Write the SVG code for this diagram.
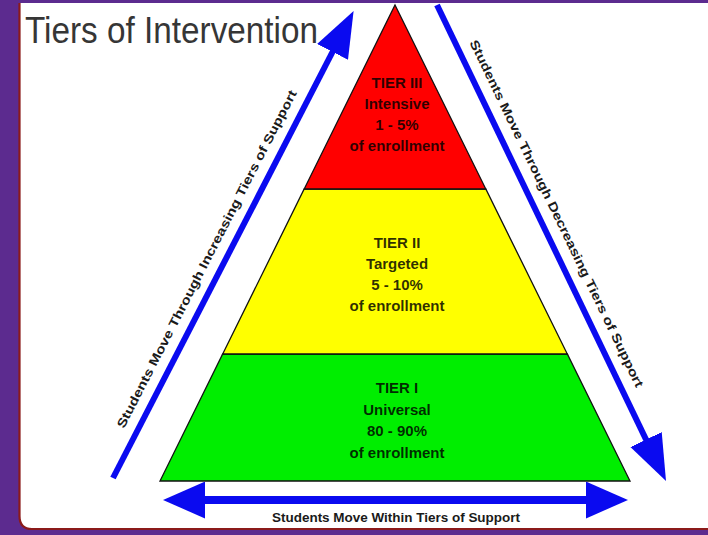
<svg xmlns="http://www.w3.org/2000/svg" width="708" height="535" viewBox="0 0 708 535">
  <style>
    .tier { stroke: #111; stroke-width: 1.3; stroke-linejoin: miter; }
    .tl { font-family: "Liberation Sans", Arial, sans-serif; font-weight: bold; font-size: 15px; text-anchor: middle; fill: #000; fill-opacity: 0.82; }
    .arr { stroke: #0a0af0; fill: none; }
    .lab { font-family: "Liberation Sans", Arial, sans-serif; font-weight: bold; font-size: 12.5px; text-anchor: middle; fill: #1a1a1a; }
  </style>
  <defs>
    <marker id="head" markerUnits="userSpaceOnUse" markerWidth="46" markerHeight="36" viewBox="0 0 45 34" refX="1" refY="17" orient="auto">
      <path d="M0,0 L45,17 L0,34 Z" fill="#0a0af0"/>
    </marker>
    <marker id="headS" markerUnits="userSpaceOnUse" markerWidth="42" markerHeight="37" viewBox="0 0 41 36" refX="1" refY="18" orient="auto-start-reverse">
      <path d="M0,0 L41,18 L0,36 Z" fill="#0a0af0"/>
    </marker>
  </defs>

  <!-- background -->
  <rect x="0" y="0" width="708" height="535" fill="#5c2b8f"/>
  <path d="M19.5,3 H708 V529 H32 Q19.5,529 19.5,516 Z" fill="#ffffff"/>
  <path d="M19.5,3 V516 Q19.5,529 32,529 H708" fill="none" stroke="#8b1a1a" stroke-width="2.2"/>

  <g id="title">
    <text x="25" y="43" font-family="'Liberation Sans', Arial, sans-serif" font-size="37" fill="#363636" textLength="293" lengthAdjust="spacingAndGlyphs">Tiers of Intervention</text>
  </g>

  <g id="tier1">
    <polygon class="tier" points="222.7,354 567.3,354 630,481 160,481" fill="#00ee00"/>
    <text class="tl" x="397" y="393">TIER I</text>
    <text class="tl" x="397" y="414.5">Universal</text>
    <text class="tl" x="397" y="436">80 - 90%</text>
    <text class="tl" x="397" y="457.5">of enrollment</text>
  </g>

  <g id="tier2">
    <polygon class="tier" points="304.2,189 485.8,189 567.3,354 222.7,354" fill="#ffff00"/>
    <text class="tl" x="397" y="248">TIER II</text>
    <text class="tl" x="397" y="269">Targeted</text>
    <text class="tl" x="397" y="290">5 - 10%</text>
    <text class="tl" x="397" y="311">of enrollment</text>
  </g>

  <g id="tier3">
    <polygon class="tier" points="395,5 485.8,189 304.2,189" fill="#ff0000"/>
    <text class="tl" x="397" y="88">TIER III</text>
    <text class="tl" x="397" y="109">Intensive</text>
    <text class="tl" x="397" y="130">1 - 5%</text>
    <text class="tl" x="397" y="151">of enrollment</text>
  </g>

  <g id="connectors">
    <g id="arrow-increasing">
      <line class="arr" x1="113" y1="478" x2="333" y2="51" stroke-width="6" marker-end="url(#head)"/>
      <text class="lab" transform="translate(222,267) rotate(-62.75)" x="0" y="-13" textLength="378" lengthAdjust="spacingAndGlyphs">Students Move Through Increasing Tiers of Support</text>
    </g>
    <g id="arrow-decreasing">
      <line class="arr" x1="437" y1="5" x2="646.5" y2="440.5" stroke-width="6" marker-end="url(#head)"/>
      <text class="lab" transform="translate(541,221) rotate(64.25)" x="0" y="-13" textLength="384" lengthAdjust="spacingAndGlyphs">Students Move Through Decreasing Tiers of Support</text>
    </g>
    <g id="arrow-within">
      <line class="arr" x1="204" y1="500" x2="587" y2="500" stroke-width="8" marker-start="url(#headS)" marker-end="url(#headS)"/>
      <text class="lab" x="396" y="522" textLength="248" lengthAdjust="spacingAndGlyphs">Students Move Within Tiers of Support</text>
    </g>
  </g>
</svg>
